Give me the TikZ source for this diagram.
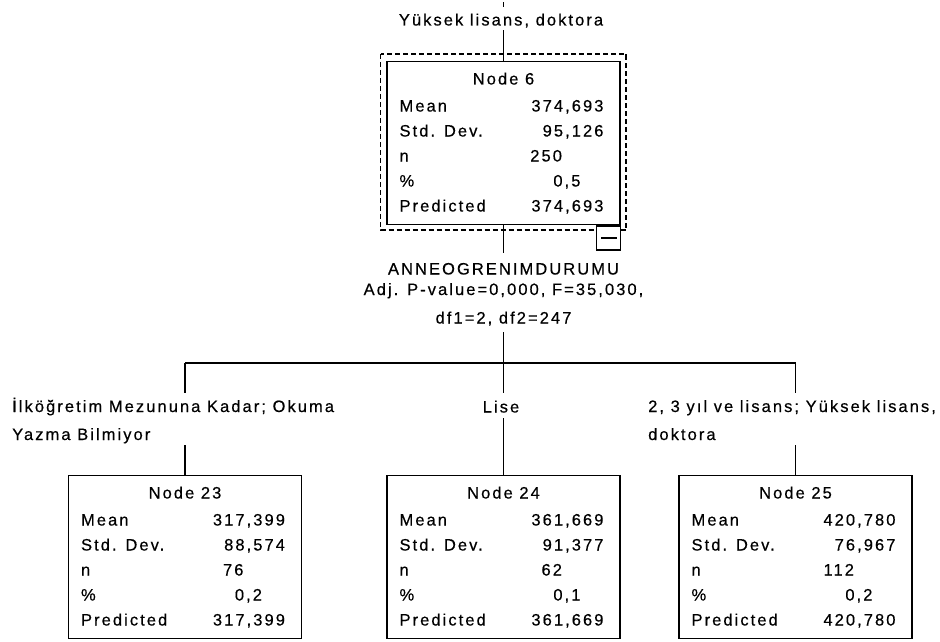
\documentclass[tikz,border=0pt]{standalone}
\usepackage{fontspec}
\setmainfont{Liberation Sans}[LetterSpace=12.5, FakeBold=0.4]
\usetikzlibrary{calc}

\tikzset{
  txt/.style={inner sep=0pt, text height=11pt, text depth=3pt, font=\fontsize{16.5}{19}\selectfont},
  statbox/.style={draw, line width=1.3pt, minimum width=233pt, minimum height=163pt, inner sep=0pt, anchor=north},
  minusbox/.style={draw, fill=white, line width=1.3pt, minimum size=24pt, inner sep=0pt, anchor=north east},
  selbox/.style={line width=1.3pt, dash pattern=on 5pt off 3pt},
  conn/.style={line width=1.3pt}
}

% rows of a tree node: name, title, mean, std. dev., n, percent
\newcommand{\statrows}[6]{%
  \node[txt, anchor=base] (#1t) at ($(#1.north)+(0,23.5)$) {#2};
  \node[txt, anchor=base west] (#1a) at ($(#1.north west)+(13,50.5)$) {Mean};
  \node[txt, anchor=base west] (#1b) at ($(#1.north west)+(13,75.5)$) {Std. Dev.};
  \node[txt, anchor=base west] (#1c) at ($(#1.north west)+(13,100.5)$) {n};
  \node[txt, anchor=base west] (#1d) at ($(#1.north west)+(13,125.5)$) {\%};
  \node[txt, anchor=base west] (#1e) at ($(#1.north west)+(13,150.5)$) {Predicted};
  \node[txt, anchor=base east] (#1va) at ($(#1.north east)+(-17,50.5)$) {#3};
  \node[txt, anchor=base east] (#1vb) at ($(#1.north east)+(-17,75.5)$) {#4};
  \node[txt, anchor=base east] (#1vc) at ($(#1.north east)+(-58.5,100.5)$) {#5};
  \node[txt, anchor=base east] (#1vd) at ($(#1.north east)+(-40,125.5)$) {#6};
  \node[txt, anchor=base east] (#1ve) at ($(#1.north east)+(-17,150.5)$) {#3};
}

\begin{document}
\begin{tikzpicture}[x=1pt, y=-1pt]
  \useasboundingbox (0,0) rectangle (940,642);

  % parent node
  \coordinate (top6) at (503.5,2.5);
  \node[txt, anchor=base] (lbl6) at (501,25.5) {Yüksek lisans, doktora};
  \node[statbox] (n6) at (503.5,61) {};
  \statrows{n6}{Node 6}{374,693}{95,126}{250}{0,5}
  \draw[selbox] (380.5,54) rectangle (626,230);
  \node[minusbox] (c6) at ($(n6.south east)+(0.65,0)$) {};
  \draw[conn] ($(c6.west)+(5,0)$) -- ($(c6.east)+(-4,0)$);

  \draw[conn, shorten >=7.5pt] (top6) -- (top6 |- lbl6.north);
  \draw[conn, shorten <=1.5pt] (n6.north |- lbl6.south) -- (n6.north);

  % split
  \node[txt, anchor=base] (var6) at (503.5,274.5) {ANNEOGRENIMDURUMU};
  \node[txt, anchor=base] (adj6) at (503.5,295) {Adj. P-value=0,000, F=35,030,};
  \node[txt, anchor=base] (df6) at (503.5,323.5) {df1=2, df2=247};
  \draw[conn, shorten >=10.5pt] (n6.south) -- (var6.north);

  \coordinate (j6) at (503.5,363);
  \coordinate (j23) at (185,363);
  \coordinate (j25) at (795.5,363);
  \draw[conn, shorten <=5.5pt] (df6.south) -- (j6);
  \draw[conn] (j23) -- (j25);

  % child nodes
  \node[statbox] (n23) at (185,475) {};
  \node[statbox] (n24) at (503.5,475) {};
  \node[statbox] (n25) at (795.5,475) {};
  \statrows{n23}{Node 23}{317,399}{88,574}{76}{0,2}
  \statrows{n24}{Node 24}{361,669}{91,377}{62}{0,1}
  \statrows{n25}{Node 25}{420,780}{76,967}{112}{0,2}

  \node[txt, anchor=base west] (lbl23a) at (12,412) {İlköğretim Mezununa Kadar; Okuma};
  \node[txt, anchor=base west] (lbl23b) at (12,440) {Yazma Bilmiyor};
  \node[txt, anchor=base] (lbl24) at (501,412.5) {Lise};
  \node[txt, anchor=base west] (lbl25a) at (648,412) {2, 3 yıl ve lisans; Yüksek lisans,};
  \node[txt, anchor=base west] (lbl25b) at (648,440) {doktora};

  \draw[conn, shorten >=8pt] (j23) -- (j23 |- lbl23a.north);
  \draw[conn, shorten <=2pt] (n23.north |- lbl23b.south) -- (n23.north);
  \draw[conn, shorten >=8.5pt] (j6) -- (j6 |- lbl24.north);
  \draw[conn, shorten <=2.5pt] (n24.north |- lbl24.south) -- (n24.north);
  \draw[conn, shorten >=8pt] (j25) -- (j25 |- lbl25a.north);
  \draw[conn, shorten <=2pt] (n25.north |- lbl25b.south) -- (n25.north);

\end{tikzpicture}
\end{document}
